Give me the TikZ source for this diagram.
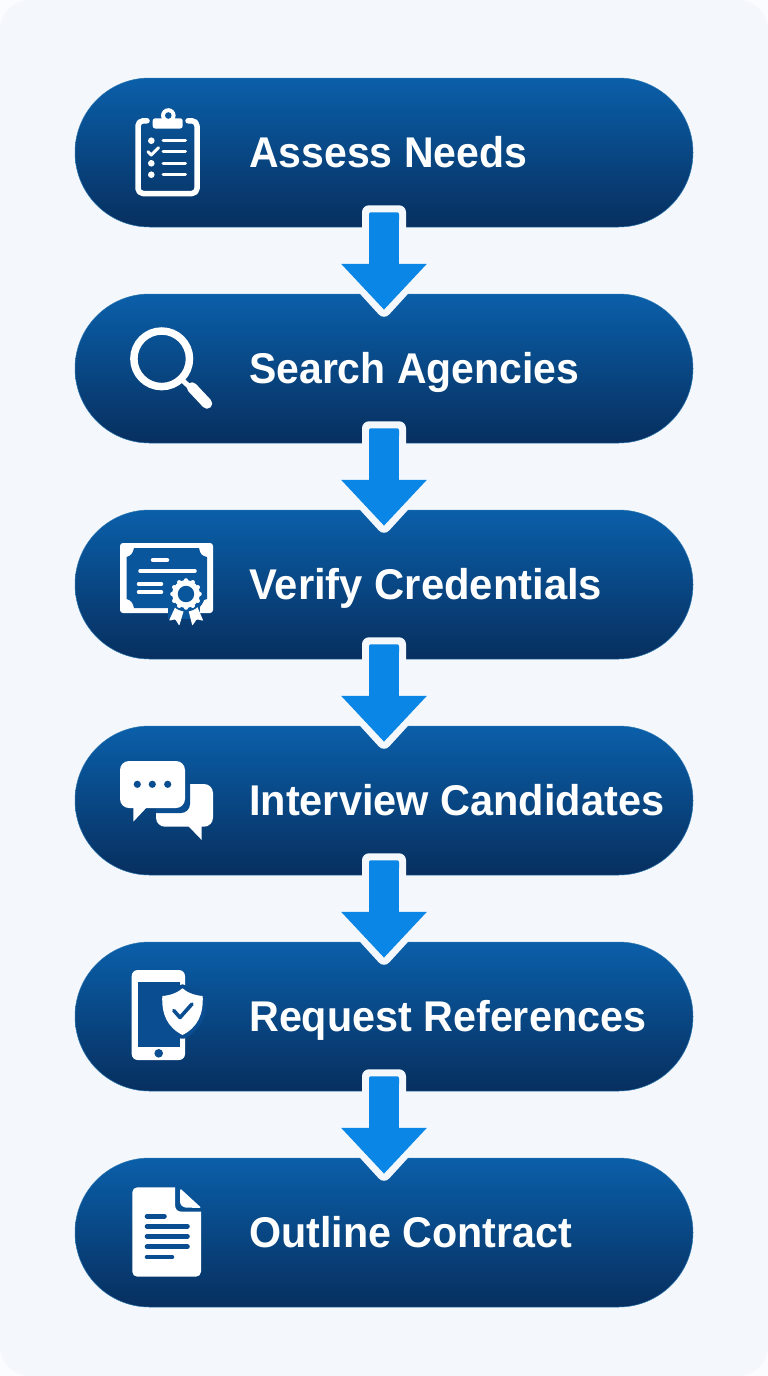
\documentclass[tikz,border=0pt]{standalone}
\usepackage{fontspec}
\setmainfont{Liberation Sans}
\usetikzlibrary{arrows.meta,calc}
\definecolor{pagecol}{HTML}{FBFCFF}
\definecolor{bgcol}{HTML}{F4F8FD}
\definecolor{pilltop}{HTML}{0A5FA9}
\definecolor{pillmid}{HTML}{0A4D90}
\definecolor{pillbot}{HTML}{072F5F}
\definecolor{pilledge}{HTML}{2A76B0}
\definecolor{arrowcol}{HTML}{0A87E6}
\colorlet{iconA}{pilltop!50!pillmid}
\colorlet{iconB}{pillmid}
\newsavebox\labbox
\newcommand\fitlab[2]{\sbox\labbox{#2}\pgfmathsetmacro\labr{#1/(\wd\labbox/1pt)}\scalebox{\labr}[1]{\usebox\labbox}}
\tikzset{
  pill/.style={rectangle,rounded corners=74.5pt,minimum width=618pt,minimum height=149pt,inner sep=0pt,
    top color=pilltop,middle color=pillmid,bottom color=pillbot,draw=pilledge,line width=.5pt},
  steplabel/.style={anchor=base west,inner sep=0pt,text=white,font=\fontsize{43}{45}\selectfont\bfseries},
  halo/.style={draw=bgcol,fill=bgcol,line width=14pt,line join=round},
  flow/.style={draw=arrowcol,line width=30pt,-{Triangle[length=46pt,width=83pt]}},
  iw/.style={draw=white,line cap=round,line join=round},
  wf/.style={fill=white},
}
\newcommand\flowarrow[2]{%
  \draw[halo] ([xshift=-15pt,yshift=15pt]#1.south) -- ([xshift=15pt,yshift=15pt]#1.south) -- ([xshift=15pt,yshift=30pt]#2.north) -- ([xshift=42pt,yshift=30pt]#2.north) -- ([yshift=-16pt]#2.north) -- ([xshift=-42pt,yshift=30pt]#2.north) -- ([xshift=-15pt,yshift=30pt]#2.north) -- cycle;
  \fill[arrowcol,rounded corners=2pt] ([xshift=-15pt,yshift=15pt]#1.south) rectangle ([xshift=15pt,yshift=5pt]#1.south);
  \draw[flow] ([yshift=10pt]#1.south) -- ([yshift=-16pt]#2.north);
}
\begin{document}
\begin{tikzpicture}[x=1pt,y=-1pt]
\useasboundingbox (0,0) rectangle (768,1376);
\fill[pagecol] (0,0) rectangle (768,1376);
\fill[bgcol,rounded corners=30pt] (0,0) rectangle (768,1376);

\node[pill] (p1) at (384,152.5) {};
\node[pill] (p2) at (384,368.5) {};
\node[pill] (p3) at (384,584.5) {};
\node[pill] (p4) at (384,800.5) {};
\node[pill] (p5) at (384,1016.5) {};
\node[pill] (p6) at (384,1232.5) {};

\node[steplabel] (t1) at (249,167) {\fitlab{278}{Assess Needs}};
\node[steplabel] (t2) at (249,383) {\fitlab{330}{Search Agencies}};
\node[steplabel] (t3) at (249,599) {\fitlab{353}{Verify Credentials}};
\node[steplabel] (t4) at (249,815) {\fitlab{415}{Interview Candidates}};
\node[steplabel] (t5) at (249,1031) {\fitlab{397}{Request References}};
\node[steplabel] (t6) at (249,1247) {\fitlab{323}{Outline Contract}};

\flowarrow{p1}{p2}
\flowarrow{p2}{p3}
\flowarrow{p3}{p4}
\flowarrow{p4}{p5}
\flowarrow{p5}{p6}

% clipboard
\draw[iw,line width=5.5pt] (147,120.8) -- (143,120.8) arc[start angle=-90,end angle=-180,radius=5] -- (138,188.5) arc[start angle=180,end angle=90,radius=5] -- (192,193.5) arc[start angle=90,end angle=0,radius=5] -- (197,125.8) arc[start angle=0,end angle=-90,radius=5] -- (188,120.8);
\fill[wf,rounded corners=2.5pt] (152.7,118.3) rectangle (182.7,128.5);
\fill[wf] (168.3,115.5) circle (7.3);
\fill[iconA] (168.3,115.5) circle (3.3);
\foreach \yy in {140.7,163.3,174.7}{
  \fill[wf] (151.3,\yy) circle (3.3);
}
\draw[iw,line width=3pt] (148,151.7) -- (151.3,155) -- (158.5,147.7);
\foreach \yy in {140.7,151.7,163.3,174.7}{
  \draw[iw,line width=3pt] (163,\yy) -- (185.5,\yy);
}

% magnifier
\draw[white,line width=7.5pt] (161.7,358.8) circle (27.8);
\draw[white,line width=5pt] (181,379) -- (192,389);
\draw[iw,line width=10.5pt] (192,387.5) -- (207,403.5);

% certificate
\fill[wf,rounded corners=3pt] (120,543) rectangle (213,613);
\fill[iconA] (134,548) -- (199,548) .. controls (200,554) and (202,556) .. (207,557) -- (207,599) .. controls (202,600) and (200,603) .. (199,608) -- (134,608) .. controls (133,603) and (131,600) .. (126.5,599) -- (126.5,557) .. controls (131,556) and (133,553) .. (134,548) -- cycle;
\draw[iw,line width=4.5pt] (153,560) -- (167,560);
\draw[iw,line width=3.5pt] (140,571) -- (195,571);
\draw[iw,line width=3.5pt] (138.5,584) -- (161.5,584);
\draw[iw,line width=3.5pt] (138.5,592) -- (161.5,592);
\fill[iconA] (186,594) circle (19);
\fill[iconA] (168,606) rectangle (200,619);
\fill[wf,rounded corners=.8pt] (176,605.3) -- (184,609.7) -- (179.3,625.7) -- (175.3,619.3) -- (169,620.7) -- cycle;
\fill[wf,rounded corners=.8pt] (188.3,609.7) -- (196.7,605.3) -- (203.3,620.7) -- (196.7,619.3) -- (192.3,625.7) -- cycle;
\fill[iconA] (186,594) circle (17.5);
\fill[wf] (186,594) circle (13.8);
\foreach \aa in {0,30,...,330}{\fill[wf] (186,594) ++(\aa:13.6) circle (2.2);}
\fill[iconA] (186,594) circle (8.2);

% chat
\fill[wf,rounded corners=9pt] (156,784) rectangle (213,826.7);
\fill[wf] (187.3,825) -- (201.7,840) -- (201.7,825) -- cycle;
\begin{scope}
\clip (156,784) rectangle (213,841);
\fill[iconB,rounded corners=9pt] (115,756) rectangle (190,813);
\end{scope}
\fill[wf,rounded corners=9pt] (120,761) rectangle (185,808);
\fill[wf] (133.3,806) -- (133.3,821.7) -- (148,806) -- cycle;
\foreach \xx in {137.3,152.3,167.7}{\fill[iconB] (\xx,784.3) circle (3.6);}

% phone
\fill[wf,rounded corners=6pt] (131.7,970) rectangle (185,1060);
\fill[iconB] (137.5,981.7) rectangle (179.5,1047);
\fill[iconB] (158.7,1053.3) circle (4.3);
\draw[draw=iconB,line width=8pt,line join=round,fill=iconB] (182.5,988.3) .. controls (187,992.5) and (195,995.5) .. (202.7,996) .. controls (203.5,1014) and (198,1027) .. (182.5,1035) .. controls (167,1027) and (161.5,1014) .. (162.3,996) .. controls (170,995.5) and (178,992.5) .. (182.5,988.3) -- cycle;
\fill[wf] (182.5,988.3) .. controls (187,992.5) and (195,995.5) .. (202.7,996) .. controls (203.5,1014) and (198,1027) .. (182.5,1035) .. controls (167,1027) and (161.5,1014) .. (162.3,996) .. controls (170,995.5) and (178,992.5) .. (182.5,988.3) -- cycle;
\draw[draw=iconB,line width=3.6pt,line cap=round,line join=round] (173.8,1010.5) -- (180,1017.5) -- (192,1004);

% document
\fill[wf] (137.3,1187.3) -- (175,1187.3) -- (175,1204) .. controls (175,1209) and (177,1211.7) .. (182,1211.7) -- (201,1211.7) -- (201,1271.7) arc[start angle=0,end angle=90,radius=5] -- (137.3,1276.7) arc[start angle=90,end angle=180,radius=5] -- (132.3,1192.3) arc[start angle=180,end angle=270,radius=5] -- cycle;
\fill[wf,rounded corners=1.5pt] (180,1188.3) -- (201.5,1208) -- (184,1207.5) -- (180,1204) -- cycle;
\foreach \yy/\xe in {1216.3/164.5,1226.3/187.5,1236.3/187.5,1246.7/187.5,1257/172}{
  \draw[draw=iconB,line width=4.6pt,line cap=round] (147,\yy) -- (\xe,\yy);
}
\end{tikzpicture}
\end{document}
